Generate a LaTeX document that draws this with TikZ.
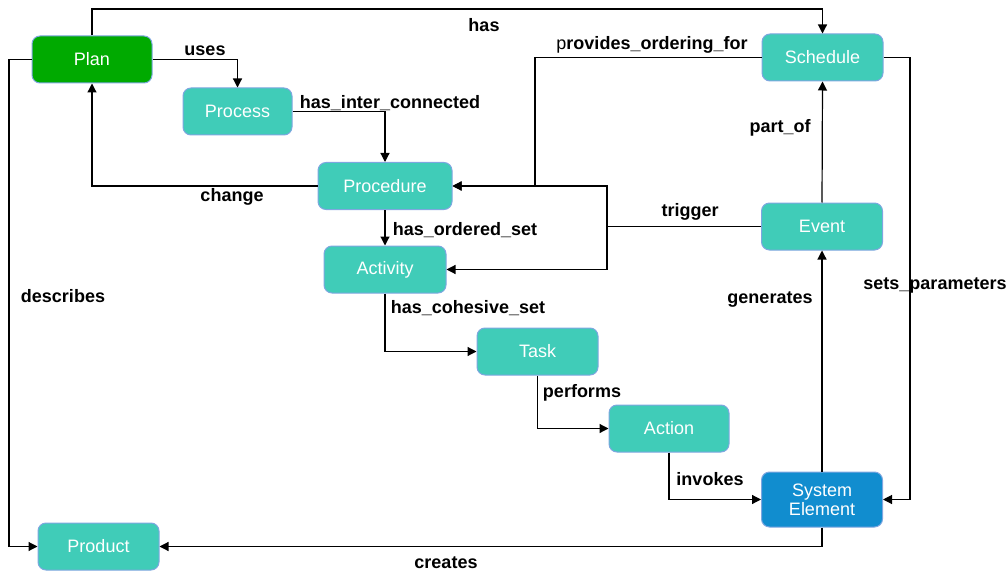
\documentclass[tikz,border=0pt]{standalone}
\usepackage{fontspec}
\setmainfont{Liberation Sans}
\usetikzlibrary{arrows.meta}
\definecolor{teal1}{HTML}{40CCB8}
\definecolor{green1}{HTML}{00AA00}
\definecolor{blue1}{HTML}{118DCF}
\definecolor{edge1}{HTML}{7EA6E0}
\tikzset{
  box/.style={draw=edge1, line width=1pt, rounded corners=8pt, fill=teal1,
    minimum width=121pt, minimum height=47pt, inner sep=0pt, text=white,
    font=\fontsize{18}{20}\selectfont, align=center},
  arr/.style={line width=1.2pt, -{Triangle[length=9pt,width=9pt]}},
  ln/.style={line width=1.2pt},
  lbl/.style={font=\fontsize{18}{20}\selectfont\bfseries, inner sep=0pt}
}
\begin{document}
\begin{tikzpicture}[x=1pt,y=-1pt]
\useasboundingbox (0,0) rectangle (1008,572);
% nodes
\node[box, fill=green1, minimum width=120pt] (plan) at (92,59.5) {Plan};
\node[box, minimum width=109pt] (process) at (237.5,111.5) {Process};
\node[box, minimum width=134pt] (procedure) at (385,186) {Procedure};
\node[box, minimum width=122pt] (activity) at (385,269.5) {Activity};
\node[box] (task) at (537.5,351.5) {Task};
\node[box, minimum width=120pt] (action) at (669,428.5) {Action};
\node[box, fill=blue1, minimum height=55pt] (sysel) at (822,499.5) {System\\[-1pt]Element};
\node[box] (event) at (822,226.5) {Event};
\node[box] (schedule) at (822.5,57.5) {Schedule};
\node[box] (product) at (98.5,546.5) {Product};
% connectors
\coordinate (hasc) at (92,9);
\draw[arr] (plan.north) -- (hasc) -| (schedule.north);
\draw[arr] (plan.east) -| (process.north);
\draw[arr] (process.east) -| (procedure.north);
\draw[arr] (procedure.west) -| (plan.south);
\coordinate (descc) at (9,59.5);
\draw[arr] (plan.west) -- (descc) |- (product.west);
\coordinate (poc) at (535,57.5);
\coordinate (poc2) at (535,186);
\draw[arr] (schedule.west) -- (poc) -- (poc2) -- (procedure.east);
\coordinate (trj) at (607,226.5);
\draw[ln] (event.west) -- (trj);
\draw[arr] (trj) |- (procedure.east);
\draw[arr] (trj) |- (activity.east);
\draw[arr] (procedure.south) -- (activity.north);
\draw[arr] (activity.south) |- (task.west);
\draw[arr] (task.south) |- (action.west);
\draw[arr] (action.south) |- (sysel.west);
\draw[arr] (sysel.north) -- (event.south);
\draw[arr] (event.north) -- (schedule.south);
\coordinate (spc) at (910,57.5);
\draw[arr] (schedule.east) -- (spc) |- (sysel.east);
\draw[arr] (sysel.south) |- (product.east);
% labels
\node[lbl] (l1) at (484,25) {has};
\node[lbl] (l2) at (205,51) {uses};
\node[lbl] (l3) at (390,103) {has\_inter\_connected};
\node[lbl] (l4) at (232,197) {change};
\node[lbl] (l5) at (63,296) {describes};
\node[lbl] (l6) at (652,45) {\mdseries p\bfseries rovides\_ordering\_for};
\node[lbl] (l7) at (690,212) {trigger};
\node[lbl] (l8) at (465,230) {has\_ordered\_set};
\node[lbl] (l9) at (468,308) {has\_cohesive\_set};
\node[lbl] (l10) at (582,393) {performs};
\node[lbl] (l11) at (710,479) {invokes};
\node[lbl] (l12) at (770,300) {generates};
\node[lbl] (l13) at (780,128) {part\_of};
\node[lbl] (l14) at (935,285) {sets\_parameters};
\node[lbl] (l15) at (446,563) {creates};
\end{tikzpicture}
\end{document}
